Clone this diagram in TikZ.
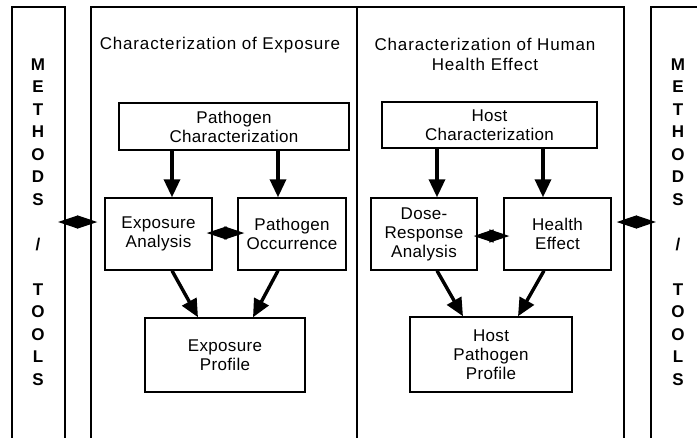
\documentclass[tikz,border=0pt]{standalone}
\usepackage{fontspec}
\setmainfont{Liberation Sans}[LetterSpace=2]
\newfontfamily\titlefont{Liberation Sans}[LetterSpace=5]
\usetikzlibrary{arrows.meta}
\tikzset{
  panel/.style={line width=1.1pt},
  box/.style={draw, line width=1.4pt, align=center, inner sep=0pt, font=\fontsize{17}{19}\selectfont},
  arr/.style={line width=3.4pt, -{Triangle[length=18pt,width=16pt]}},
  dbl/.style={line width=1.2pt, {Triangle[length=20pt,width=13pt]}-{Triangle[length=20pt,width=13pt]}},
  ttl/.style={align=center, font=\titlefont\fontsize{17}{19.5}\selectfont},
  mt/.style={align=center, font=\bfseries\fontsize{17}{22.5}\selectfont}
}
\begin{document}
\begin{tikzpicture}[x=1pt,y=-1pt]
\useasboundingbox (0,0) rectangle (697,437);
% panels
\draw[panel] (12,440) -- (12,7) -- (65,7) -- (65,440);
\draw[panel] (91,440) -- (91,7) -- (624,7) -- (624,440);
\draw[panel] (357,7) -- (357,440);
\draw[panel] (651,440) -- (651,7) -- (700,7);
\coordinate (mlR) at (65,222);
\coordinate (mrL) at (651,222);
% side texts
\node[mt] (ml) at (38,222) {M\\E\\T\\H\\O\\D\\S\\[22.5pt]/\\[22.5pt]T\\O\\O\\L\\S};
\node[mt] (mr) at (678,222) {M\\E\\T\\H\\O\\D\\S\\[22.5pt]/\\[22.5pt]T\\O\\O\\L\\S};
% titles
\node[ttl] (t1) at (220,45) {Characterization of Exposure};
\node[ttl] (t2) at (485,54.5) {Characterization of Human\\Health Effect};
% boxes
\node[box, minimum width=230pt, minimum height=47pt] (pc) at (234,126.5) {Pathogen\\Characterization};
\node[box, minimum width=107pt, minimum height=72pt] (ea) at (158.5,234) {Exposure\\Analysis};
\node[box, minimum width=108pt, minimum height=72pt] (po) at (292,234) {Pathogen\\Occurrence};
\node[box, minimum width=160pt, minimum height=74pt] (ep) at (225,355) {Exposure\\Profile};
\node[box, minimum width=215pt, minimum height=46pt] (hc) at (489.5,125) {Host\\Characterization};
\node[box, minimum width=106pt, minimum height=72pt] (dr) at (424,234) {Dose-\\Response\\Analysis};
\node[box, minimum width=107pt, minimum height=72pt] (he) at (557.5,234) {Health\\Effect};
\node[box, minimum width=162pt, minimum height=75pt] (hp) at (491,354.5) {Host\\Pathogen\\Profile};
% arrows
\draw[arr] (pc.south -| 172,0) -- (ea.north -| 172,0);
\draw[arr] (pc.south -| 278,0) -- (po.north -| 278,0);
\draw[arr] (hc.south -| 437,0) -- (dr.north -| 437,0);
\draw[arr] (hc.south -| 543,0) -- (he.north -| 543,0);
\draw[arr] (ea.south -| 172,0) -- (ep.north -| 198,0);
\draw[arr] (po.south -| 278,0) -- (ep.north -| 253,0);
\draw[arr] (dr.south -| 437,0) -- (hp.north -| 463,0);
\draw[arr] (he.south -| 544,0) -- (hp.north -| 518,0);
% double arrows
\draw[dbl, shorten <=-6pt, shorten >=-7pt] (ea.east |- 0,233) -- (po.west |- 0,233);
\draw[dbl, shorten <=-4pt, shorten >=-6pt] (dr.east |- 0,236) -- (he.west |- 0,236);
\draw[dbl, shorten <=-7pt, shorten >=7pt] (mlR) -- (ea.west |- mlR);
\draw[dbl, shorten <=5pt, shorten >=-5pt] (he.east |- mrL) -- (mrL);
\end{tikzpicture}
\end{document}
